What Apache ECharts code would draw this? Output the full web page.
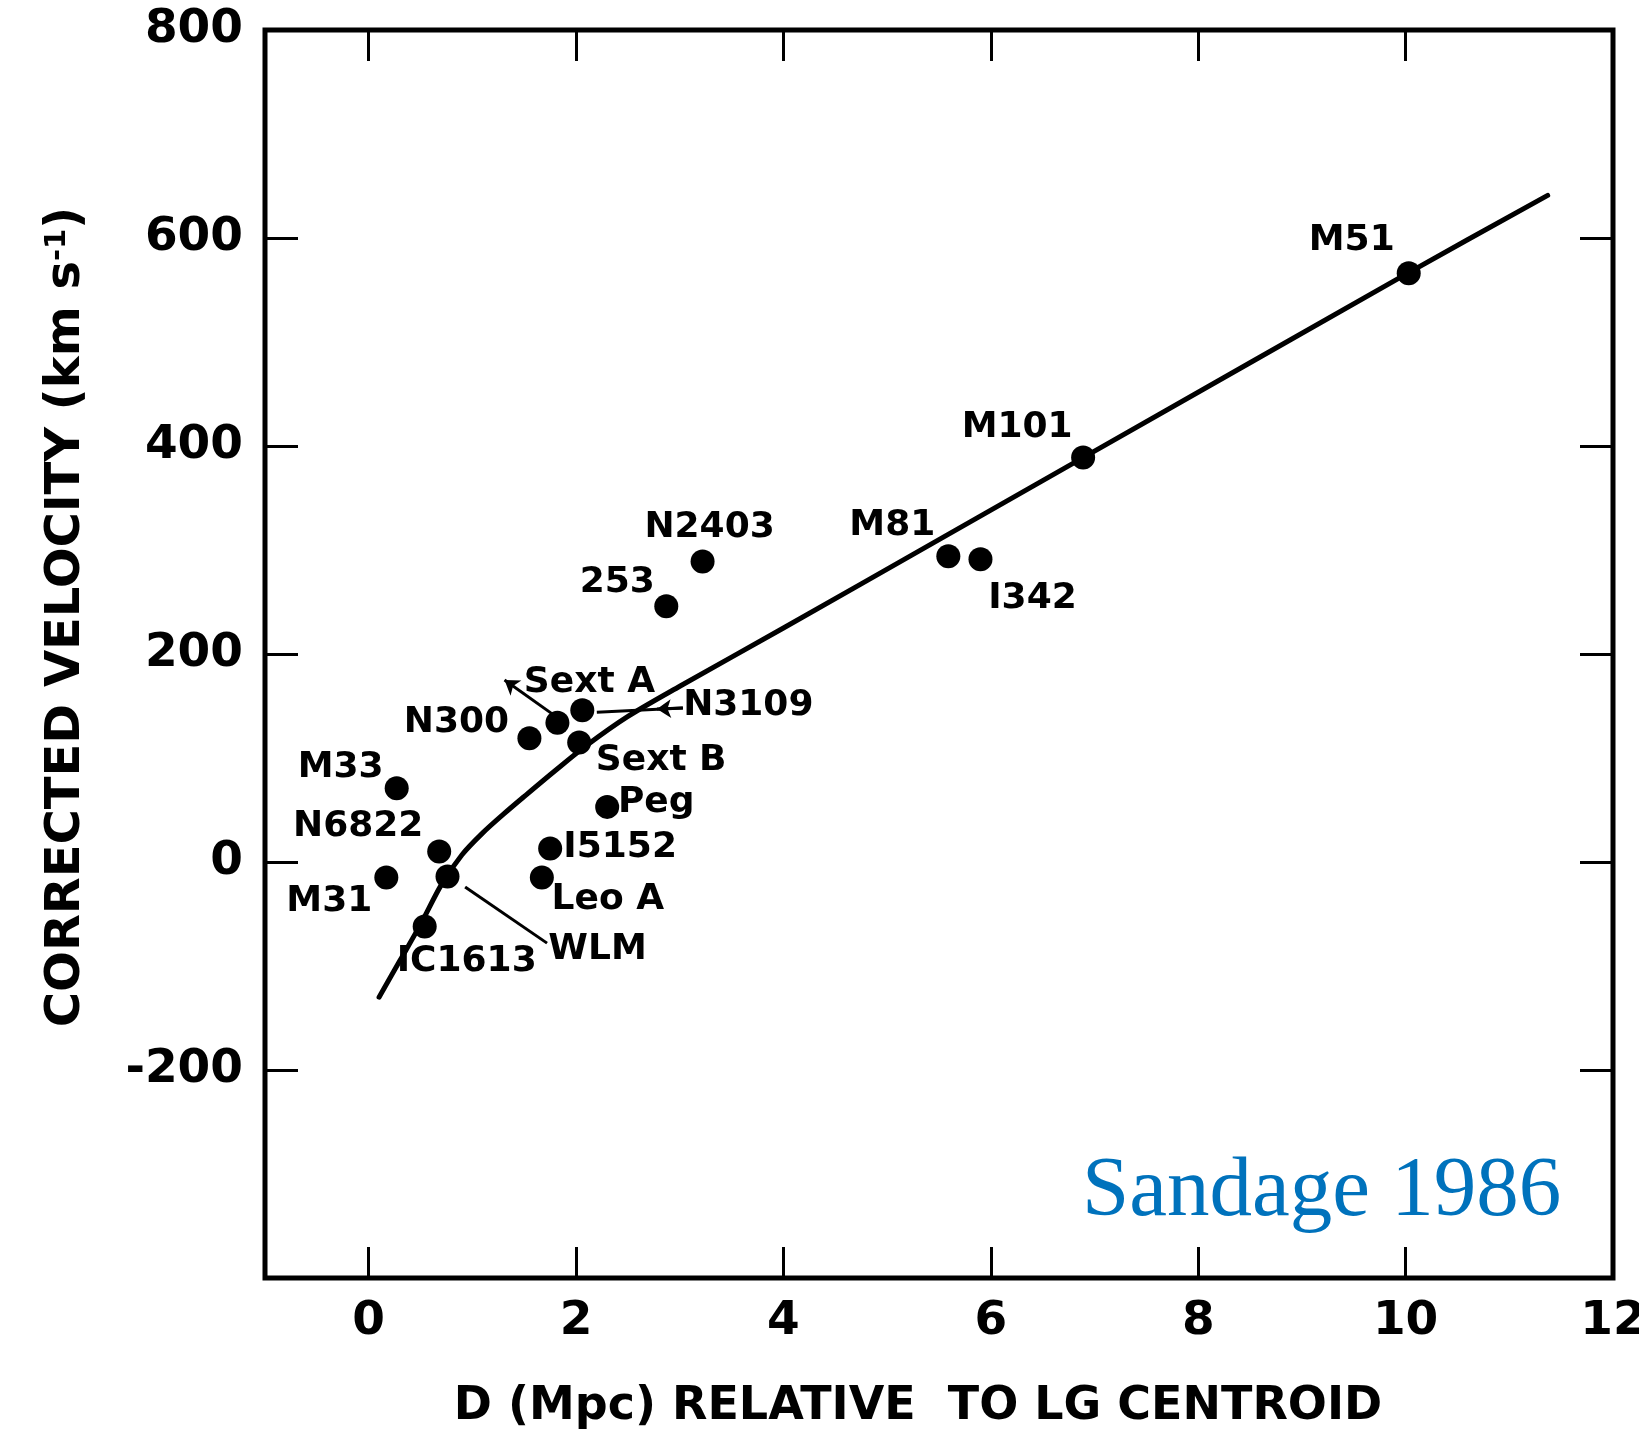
<!DOCTYPE html>
<html><head><meta charset="utf-8">
<script src="https://cdn.jsdelivr.net/npm/echarts@6/dist/echarts.min.js"></script>
<style>html,body{margin:0;padding:0;background:#fff}#c{width:1639px;height:1441px}</style>
</head><body><div id="c"></div>
<script>
// ---- data ----
const galaxyNames = ['M51','M101','M81','I342','N2403','253','N3109','Sext A','N300','Sext B','Peg','I5152','Leo A','M33','N6822','M31','WLM','IC1613'];
const distanceMpc = [10.03, 6.89, 5.59, 5.90, 3.22, 2.87, 2.06, 1.82, 1.55, 2.03, 2.30, 1.75, 1.67, 0.27, 0.68, 0.17, 0.76, 0.54];
const velocityKms = [566, 389, 294, 291, 289, 246, 146, 134, 119, 115, 53, 13, -15, 71, 10, -15, -14, -62];

// fitted curve
const curveD = [0.10, 0.30, 0.50, 0.70, 0.90, 1.10, 1.30, 1.50, 1.80, 2.10, 2.50, 3.00, 4.00, 5.50, 7.00, 10.00, 11.37];
const curveV = [-130, -95, -60, -22, 7, 28, 46, 63, 88, 112, 140, 169, 225, 310, 395, 565, 641];

const xTickValues = [0, 2, 4, 6, 8, 10, 12];
const yTickValues = [-400, -200, 0, 200, 400, 600, 800];
const yLabelValues = [-200, 0, 200, 400, 600, 800];

// leader lines (data units): plain and with arrowheads
const leaderPlain = [[[2.20, 144], [3.03, 148]], [[0.93, -24], [1.72, -78]]];
const leaderArrow = [[[1.79, 141], [1.31, 175]], [[3.03, 148], [2.78, 147]]];

// ---- styling (label offsets in px) ----
const labelOffsets = {
  'M51': [-57, -33], 'M101': [-66, -30], 'M81': [-56, -31], 'I342': [52, 39],
  'N2403': [7, -34], '253': [-49, -24], 'Sext A': [32, -40], 'N3109': [166, -5],
  'N300': [-73, -16], 'Sext B': [82, 18], 'Peg': [49, -4], 'I5152': [70, -1],
  'Leo A': [66, 22], 'M33': [-56, -21], 'N6822': [-81, -25], 'M31': [-57, 24],
  'WLM': [150, 73], 'IC1613': [42, 35]
};
const FONT = '"DejaVu Sans", "Liberation Sans", sans-serif';

const scatterData = galaxyNames.map((n, i) => ({
  name: n,
  value: [distanceMpc[i], velocityKms[i]],
  label: { offset: labelOffsets[n] }
}));
const curveData = curveD.map((d, i) => [d, curveV[i]]);

const tickStyle = { inside: true, length: 31, lineStyle: { width: 3, color: '#000' } };
const noLine = { show: false, onZero: false };

const chart = echarts.init(document.getElementById('c'), null, { renderer: 'canvas' });
chart.setOption({
  animation: false,
  backgroundColor: '#fff',
  grid: { left: 265, right: 26, top: 30, bottom: 163, show: true, borderColor: '#000', borderWidth: 5,
          containLabel: false, outerBoundsMode: 'none' },
  xAxis: [{
    type: 'value', min: -1, max: 12, position: 'bottom',
    axisLine: noLine, splitLine: { show: false },
    axisTick: Object.assign({ customValues: xTickValues }, tickStyle),
    axisLabel: { customValues: xTickValues, margin: 20, fontSize: 47, fontWeight: 'bold', fontFamily: FONT, color: '#000' },
    name: 'D (Mpc) RELATIVE  TO LG CENTROID', nameLocation: 'middle', nameGap: 106,
    nameTextStyle: { fontSize: 46, fontWeight: 'bold', fontFamily: FONT, color: '#000', padding: [0, 42, 0, 0] }
  }, {
    type: 'value', min: -1, max: 12, position: 'top',
    axisLine: noLine, splitLine: { show: false },
    axisTick: Object.assign({ customValues: xTickValues }, tickStyle),
    axisLabel: { show: false }
  }],
  yAxis: [{
    type: 'value', min: -400, max: 800, interval: 200, position: 'left',
    axisLine: noLine, splitLine: { show: false },
    axisTick: Object.assign({ customValues: yTickValues }, tickStyle, { length: 33 }),
    axisLabel: { customValues: yLabelValues, margin: 22, fontSize: 47, fontWeight: 'bold', fontFamily: FONT, color: '#000' },
    name: '{t|CORRECTED VELOCITY (km s}{s|-1}{t|)}', nameLocation: 'middle', nameRotate: 90, nameGap: 174,
    nameTextStyle: {
      padding: [0, 0, 0, 74],
      rich: {
        t: { fontSize: 48, fontWeight: 'bold', fontFamily: FONT, color: '#000' },
        s: { fontSize: 29, fontWeight: 'bold', fontFamily: FONT, color: '#000', verticalAlign: 'top', padding: [0, 0, 18, 0] }
      }
    }
  }, {
    type: 'value', min: -400, max: 800, interval: 200, position: 'right',
    axisLine: noLine, splitLine: { show: false },
    axisTick: Object.assign({ customValues: yTickValues }, tickStyle, { length: 33 }),
    axisLabel: { show: false }
  }],
  series: [{
    type: 'line', data: curveData, showSymbol: false, smooth: 0.3,
    lineStyle: { color: '#000', width: 5, cap: 'round', join: 'round' }, z: 2, silent: true
  }, {
    type: 'lines', coordinateSystem: 'cartesian2d', polyline: false,
    data: leaderPlain.map(c => ({ coords: c })),
    symbol: ['none', 'none'], lineStyle: { color: '#000', width: 3, opacity: 1, curveness: 0 }, z: 2
  }, {
    type: 'lines', coordinateSystem: 'cartesian2d', polyline: false,
    data: leaderArrow.map(c => ({ coords: c })),
    symbol: ['none', 'arrow'], symbolSize: 14,
    lineStyle: { color: '#000', width: 3, opacity: 1, curveness: 0 }, z: 2
  }, {
    type: 'scatter', data: scatterData, symbol: 'circle', symbolSize: 24,
    itemStyle: { color: '#000', opacity: 1 }, z: 3,
    emphasis: { disabled: true },
    label: { show: true, formatter: '{b}', position: 'inside', fontSize: 36, fontWeight: 'bold', opacity: 1,
             fontFamily: FONT, color: '#000', align: 'center', verticalAlign: 'middle' }
  }],
  graphic: [{
    type: 'text', x: 1082, y: 1193, z: 10,
    style: { text: 'Sandage 1986', font: '85px "Liberation Serif", "Times New Roman", serif',
             fill: '#0072bc', align: 'left', verticalAlign: 'middle', textAlign: 'left', textVerticalAlign: 'middle' }
  }]
});
</script></body></html>
